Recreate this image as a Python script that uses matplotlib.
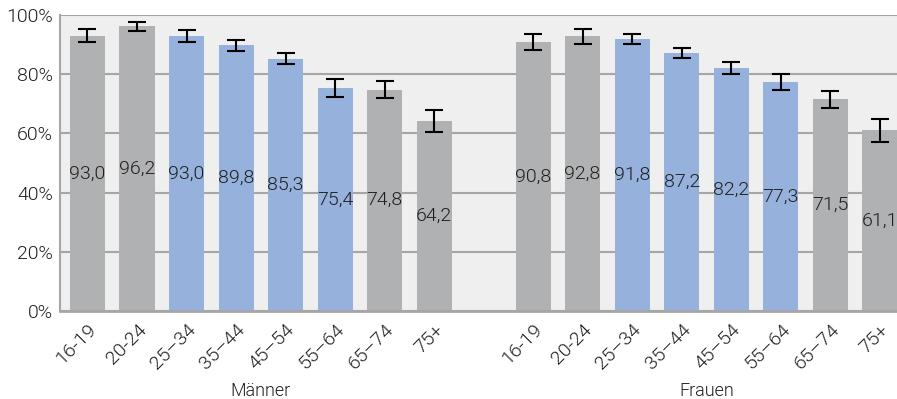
import matplotlib
matplotlib.use('Agg')
import matplotlib.pyplot as plt
import numpy as np

plt.rcParams['font.family'] = ['Roboto', 'DejaVu Sans']
plt.rcParams['font.weight'] = 300

age_groups = ['16-19', '20-24', '25–34', '35–44', '45–54', '55–64', '65–74', '75+']
groups = ['Männer', 'Frauen']
men_values = [93.0, 96.2, 93.0, 89.8, 85.3, 75.4, 74.8, 64.2]
women_values = [90.8, 92.8, 91.8, 87.2, 82.2, 77.3, 71.5, 61.1]
men_err = [2.2, 1.6, 2.1, 1.8, 1.9, 3.0, 3.0, 3.7]
women_err = [2.7, 2.5, 1.7, 1.8, 2.0, 2.7, 2.8, 3.9]
highlight = [False, False, True, True, True, True, False, False]

gray = '#b0b1b3'
blue = '#95b1dc'
grid_col = '#a6a6a6'
text_col = '#1e1e1e'

fig = plt.figure(figsize=(8.97, 3.99), dpi=100)
ax = fig.add_axes([0.0669, 0.2206, 0.9331, 0.7418])
ax.set_facecolor('#efefef')

n = len(age_groups)
positions = []
values = []
errs = []
colors = []
labels = []
for gi, (vals, er) in enumerate([(men_values, men_err), (women_values, women_err)]):
    for i in range(n):
        positions.append(gi * (n + 1) + i)
        values.append(vals[i])
        errs.append(er[i])
        colors.append(blue if highlight[i] else gray)
        labels.append(age_groups[i])

ax.set_axisbelow(True)
ax.yaxis.grid(True, color=grid_col, linewidth=1.5)
ax.bar(positions, values, width=0.707, color=colors, zorder=2)
ax.errorbar(positions, values, yerr=errs, fmt='none', ecolor='black',
            elinewidth=1.5, capsize=6.5, capthick=1.5, zorder=3)

for x, v in zip(positions, values):
    ax.text(x, v / 2, f'{v:.1f}'.replace('.', ','), ha='center', va='center',
            fontsize=14, color=text_col, zorder=4)

ax.set_ylim(0, 100)
ax.set_xlim(-0.555, 16.35)
ax.set_yticks(np.arange(0, 101, 20))
ax.set_yticklabels([f'{t}%' for t in range(0, 101, 20)], fontsize=14, color=text_col)
ax.set_xticks(positions)
ax.set_xticklabels(labels, rotation=45, ha='right', va='top', rotation_mode='anchor',
                   fontsize=14, color=text_col)
ax.tick_params(axis='both', length=0)
ax.tick_params(axis='y', pad=5)
ax.tick_params(axis='x', pad=7)

for s in ['top', 'right']:
    ax.spines[s].set_visible(False)
ax.spines['left'].set_color(grid_col)
ax.spines['left'].set_linewidth(1.5)
ax.spines['bottom'].set_color(grid_col)
ax.spines['bottom'].set_linewidth(2)

for gi, g in enumerate(groups):
    cx = gi * (n + 1) + (n - 1) / 2
    ax.text(cx, -0.27, g, transform=ax.get_xaxis_transform(), ha='center', va='center',
            fontsize=13, color=text_col)

fig.savefig('out.png', dpi=100)
